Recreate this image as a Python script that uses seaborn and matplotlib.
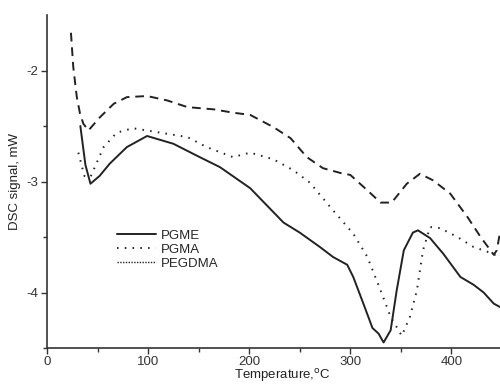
import matplotlib
matplotlib.use("Agg")
import matplotlib.pyplot as plt
import seaborn as sns
import pandas as pd
from matplotlib.lines import Line2D

sns.set_theme(style="ticks")
plt.rcParams['font.family'] = ['Liberation Sans', 'DejaVu Sans']

pgme_t = [33, 38, 43, 52, 62, 79, 99, 125, 151, 171, 201, 234, 250, 270, 283, 297, 303,
          313, 322, 328, 333, 340, 346, 353, 362, 367, 379, 392, 409, 422, 432, 442, 448]
pgme_y = [-2.50, -2.85, -3.02, -2.95, -2.84, -2.69, -2.59, -2.66, -2.78, -2.87, -3.06, -3.37,
          -3.46, -3.59, -3.68, -3.75, -3.86, -4.10, -4.32, -4.37, -4.45, -4.34, -3.98, -3.62,
          -3.46, -3.44, -3.51, -3.65, -3.86, -3.93, -4.00, -4.10, -4.13]

pgma_t = [31, 37, 43, 56, 69, 85, 112, 139, 158, 184, 201, 224, 244, 260, 283, 303, 317,
          330, 340, 351, 359, 366, 372, 379, 389, 406, 422, 435, 443, 448]
pgma_y = [-2.74, -2.95, -2.96, -2.69, -2.56, -2.52, -2.56, -2.60, -2.69, -2.78, -2.74, -2.80,
          -2.90, -3.01, -3.26, -3.47, -3.68, -3.98, -4.22, -4.39, -4.22, -3.98, -3.62, -3.41,
          -3.42, -3.50, -3.59, -3.63, -3.66, -3.64]

pegdma_t = [23.7, 26, 29.5, 32.7, 36, 41, 52.5, 66, 79, 99, 119, 139, 165, 184, 201, 224,
            241, 257, 273, 293, 300, 317, 330, 341, 356, 369, 382, 399, 416, 429, 442, 445, 448]
pegdma_y = [-1.66, -1.97, -2.24, -2.39, -2.48, -2.54, -2.42, -2.30, -2.24, -2.23, -2.27, -2.33,
            -2.35, -2.38, -2.40, -2.51, -2.61, -2.78, -2.88, -2.93, -2.94, -3.08, -3.19, -3.19,
            -3.02, -2.93, -2.99, -3.11, -3.32, -3.50, -3.66, -3.62, -3.47]

labels = ["PGME", "PGMA", "PEGDMA"]

fig = plt.figure(figsize=(5.0, 3.87), dpi=100)
ax = fig.add_axes([47/500, 39/387, 470/500, 333/387])

col = "#222222"
lw = 1.4
sns.lineplot(x=pgme_t, y=pgme_y, ax=ax, color=col, lw=lw, sort=False)
sns.lineplot(x=pgma_t, y=pgma_y, ax=ax, color=col, lw=lw, sort=False,
             linestyle=(0, (0.8, 3.2)))
sns.lineplot(x=pegdma_t, y=pegdma_y, ax=ax, color=col, lw=lw, sort=False,
             linestyle=(0, (4.5, 3)))

ax.set_xlim(0, 465)
ax.set_ylim(-4.5, -1.5)
ax.set_xticks([0, 100, 200, 300, 400])
ax.set_xticks([50, 150, 250, 350, 450], minor=True)
ax.set_yticks([-4, -3, -2])
ax.set_yticklabels(["-4", "-3", "-2"])
ax.set_yticks([-4.5, -3.5, -2.5], minor=True)
ax.tick_params(axis='both', which='major', direction='out', length=4, width=1,
               labelsize=9.5, colors="#333333", pad=2)
ax.tick_params(axis='both', which='minor', direction='out', length=3, width=1,
               colors="#333333")
for s in ["top", "right"]:
    ax.spines[s].set_visible(False)
for s in ["left", "bottom"]:
    ax.spines[s].set_color("#333333")
    ax.spines[s].set_linewidth(1.2)

ax.set_xlabel("Temperature,$^{\\mathrm{o}}$C", fontsize=9.5, color="#222222")
ax.set_ylabel("DSC signal, mW", fontsize=9.5, color="#222222", labelpad=4)
ax.xaxis.set_label_coords((282-47)/470, -0.058)

handles = [
    Line2D([], [], color=col, lw=lw),
    Line2D([], [], color=col, lw=lw, linestyle=(0, (0.8, 3.2))),
    Line2D([], [], color=col, lw=1.0, linestyle=(0, (1.0, 1.0))),
]
ax.legend(handles, labels, loc="upper left", bbox_to_anchor=((112-47)/470, (372-248)/333),
          frameon=False, fontsize=9.5, handlelength=2.9, handletextpad=0.4,
          labelspacing=0.15, borderaxespad=0)

fig.savefig("out.png", dpi=100)
